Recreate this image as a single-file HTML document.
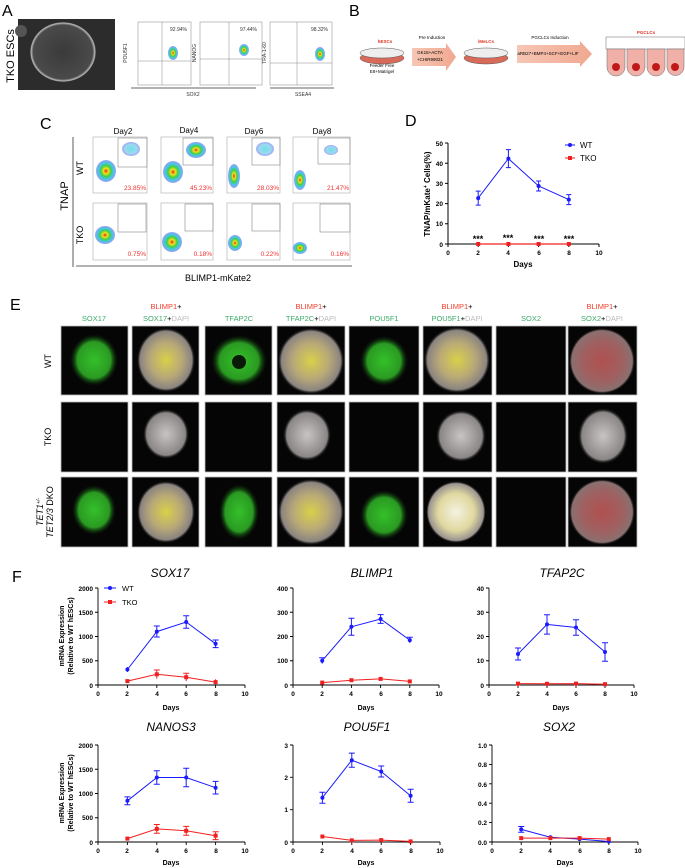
<!DOCTYPE html>
<html><head><meta charset="utf-8"><style>
html,body{margin:0;padding:0;background:#fff}
svg{display:block}
text{font-family:"Liberation Sans",Arial,sans-serif}
</style></head><body>
<svg width="685" height="868" viewBox="0 0 685 868" xmlns="http://www.w3.org/2000/svg">
<defs>
<radialGradient id="heat"><stop offset="0" stop-color="#e8261c"/><stop offset="0.25" stop-color="#f2e21a"/><stop offset="0.5" stop-color="#3fcf4a"/><stop offset="0.75" stop-color="#45c8e8"/><stop offset="1" stop-color="#5a6ee8" stop-opacity="0.6"/></radialGradient>
<radialGradient id="cyan"><stop offset="0" stop-color="#6fe0e8"/><stop offset="0.7" stop-color="#9fd8f0"/><stop offset="1" stop-color="#5a6ee8" stop-opacity="0.5"/></radialGradient>
<radialGradient id="grn"><stop offset="0" stop-color="#35c02a"/><stop offset="0.7" stop-color="#2a9a22"/><stop offset="1" stop-color="#0a2a08" stop-opacity="0"/></radialGradient>
<radialGradient id="mrg"><stop offset="0" stop-color="#d8d04a"/><stop offset="0.55" stop-color="#b8a878"/><stop offset="0.9" stop-color="#8a8480"/><stop offset="1" stop-color="#222" stop-opacity="0"/></radialGradient>
<radialGradient id="gry"><stop offset="0" stop-color="#c8c4c4"/><stop offset="0.85" stop-color="#8a8686"/><stop offset="1" stop-color="#111" stop-opacity="0"/></radialGradient>
<radialGradient id="red"><stop offset="0" stop-color="#b05050"/><stop offset="0.6" stop-color="#a06060"/><stop offset="0.92" stop-color="#8a7070"/><stop offset="1" stop-color="#111" stop-opacity="0"/></radialGradient>
<radialGradient id="wht"><stop offset="0" stop-color="#f4f2e0"/><stop offset="0.6" stop-color="#e0d8a0"/><stop offset="0.92" stop-color="#9a9490"/><stop offset="1" stop-color="#111" stop-opacity="0"/></radialGradient>
<radialGradient id="colony"><stop offset="0" stop-color="#3a3a3a"/><stop offset="0.9" stop-color="#4a4a4a"/><stop offset="0.97" stop-color="#bbb"/><stop offset="1" stop-color="#2a2a2a"/></radialGradient>
<linearGradient id="arr" x1="0" x2="1"><stop offset="0" stop-color="#f7c6b4"/><stop offset="1" stop-color="#f0a890"/></linearGradient>
</defs>

<!-- Panel A -->
<text x="2" y="16" font-size="16">A</text>
<text transform="translate(14,56) rotate(-90)" text-anchor="middle" font-size="11">TKO ESCs</text>
<rect x="18" y="19" width="97" height="71" fill="#2c2c2c"/>
<ellipse cx="63" cy="52" rx="33" ry="30" fill="url(#colony)"/>
<circle cx="21" cy="31" r="6" fill="#555"/>
<g font-size="5" fill="#333">
<rect x="138" y="22" width="53" height="63" fill="#fff" stroke="#999" stroke-width="0.6"/>
<line x1="162" y1="22" x2="162" y2="85" stroke="#888" stroke-width="0.5"/><line x1="138" y1="61" x2="191" y2="61" stroke="#888" stroke-width="0.5"/>
<ellipse cx="173" cy="53" rx="5" ry="7" fill="url(#heat)"/>
<text x="170" y="31">92.94%</text>
<text transform="translate(127,53) rotate(-90)" text-anchor="middle">POU5F1</text>
<rect x="200" y="22" width="62" height="63" fill="#fff" stroke="#999" stroke-width="0.6"/>
<line x1="229" y1="22" x2="229" y2="85" stroke="#888" stroke-width="0.5"/><line x1="200" y1="59" x2="262" y2="59" stroke="#888" stroke-width="0.5"/>
<ellipse cx="244" cy="50" rx="5" ry="6" fill="url(#heat)"/>
<text x="240" y="31">97.44%</text>
<text transform="translate(196,53) rotate(-90)" text-anchor="middle">NANOG</text>
<rect x="270" y="22" width="62" height="63" fill="#fff" stroke="#999" stroke-width="0.6"/>
<line x1="297" y1="22" x2="297" y2="85" stroke="#888" stroke-width="0.5"/><line x1="270" y1="63" x2="332" y2="63" stroke="#888" stroke-width="0.5"/>
<ellipse cx="320" cy="54" rx="5" ry="7" fill="url(#heat)"/>
<text x="311" y="31">98.32%</text>
<text transform="translate(266,53) rotate(-90)" text-anchor="middle">TRA-1-60</text>
<line x1="131" y1="88" x2="256" y2="88" stroke="#333" stroke-width="0.8"/>
<line x1="270" y1="88" x2="334" y2="88" stroke="#333" stroke-width="0.8"/>
<text x="193" y="96" text-anchor="middle">SOX2</text>
<text x="303" y="96" text-anchor="middle">SSEA4</text>
</g>

<!-- Panel B -->
<text x="349" y="16" font-size="16">B</text>
<g font-size="4.5" text-anchor="middle">
<text x="385" y="43" fill="#e03020" font-weight="bold">hESCs</text>
<ellipse cx="382" cy="58" rx="22" ry="6" fill="#d86a5a" stroke="#555" stroke-width="0.5"/>
<ellipse cx="382" cy="53" rx="22" ry="5" fill="#eee" stroke="#555" stroke-width="0.5"/>
<text x="382" y="67">Feeder Free</text><text x="382" y="73">E8+Matrigel</text>
<text x="432" y="39">Pre Induction</text>
<polygon points="412,48 446,48 446,43 456,57 446,71 446,66 412,66" fill="url(#arr)"/>
<text x="430" y="54">GK15+ACTA</text><text x="430" y="61">+CHIR99021</text>
<text x="486" y="43" fill="#e03020" font-weight="bold">iMeLCs</text>
<ellipse cx="486" cy="58" rx="22" ry="6" fill="#d86a5a" stroke="#555" stroke-width="0.5"/>
<ellipse cx="486" cy="53" rx="22" ry="5" fill="#eee" stroke="#555" stroke-width="0.5"/>
<text x="550" y="39">PGCLCs Induction</text>
<polygon points="517,45 580,45 580,41 592,54 580,67 580,63 517,63" fill="url(#arr)"/>
<text x="548" y="55">aRB27+BMP4+SCF+EGF+LIF</text>
<text x="646" y="34" fill="#e03020" font-weight="bold">PGCLCs</text>
</g>
<rect x="606" y="37" width="79" height="12" fill="#fff" stroke="#666" stroke-width="0.5"/>
<g stroke="#666" stroke-width="0.5" fill="#f0b0a8">
<path d="M607,49 h18 v18 a9,9 0 0 1 -18,0 z"/><path d="M627,49 h18 v18 a9,9 0 0 1 -18,0 z"/>
<path d="M647,49 h18 v18 a9,9 0 0 1 -18,0 z"/><path d="M667,49 h17 v18 a8.5,8.5 0 0 1 -17,0 z"/>
</g>
<g fill="#c01818"><circle cx="616" cy="67" r="4"/><circle cx="636" cy="67" r="4"/><circle cx="656" cy="67" r="4"/><circle cx="675" cy="67" r="4"/></g>

<!-- Panel C -->
<text x="40" y="129" font-size="16">C</text>
<g font-size="8" text-anchor="middle">
<text x="123" y="134">Day2</text><text x="189" y="133">Day4</text><text x="254" y="134">Day6</text><text x="322" y="134">Day8</text>
</g>
<text transform="translate(68,196) rotate(-90)" text-anchor="middle" font-size="11">TNAP</text>
<text transform="translate(83,168) rotate(-90)" text-anchor="middle" font-size="9">WT</text>
<text transform="translate(83,235) rotate(-90)" text-anchor="middle" font-size="9">TKO</text>
<line x1="73" y1="137" x2="73" y2="267" stroke="#333" stroke-width="0.8"/>
<line x1="76" y1="266" x2="352" y2="266" stroke="#333" stroke-width="0.8"/>
<text x="218" y="281" text-anchor="middle" font-size="9">BLIMP1-mKate2</text>
<g stroke="#aaa" stroke-width="0.6" fill="#fff">
<rect x="93" y="137" width="54" height="56"/><rect x="161" y="137" width="52" height="56"/><rect x="227" y="137" width="53" height="56"/><rect x="293" y="137" width="57" height="56"/>
<rect x="93" y="203" width="54" height="57"/><rect x="161" y="203" width="52" height="57"/><rect x="227" y="203" width="53" height="57"/><rect x="293" y="203" width="57" height="57"/>
</g>
<g stroke="#888" stroke-width="0.6" fill="none">
<rect x="118" y="138" width="29" height="29"/><rect x="183" y="138" width="30" height="27"/><rect x="252" y="138" width="28" height="27"/><rect x="318" y="138" width="32" height="26"/>
<rect x="118" y="204" width="28" height="28"/><rect x="185" y="204" width="28" height="27"/><rect x="252" y="204" width="28" height="27"/><rect x="320" y="204" width="30" height="28"/>
</g>
<g>
<ellipse cx="106" cy="171" rx="10" ry="11" fill="url(#heat)"/><ellipse cx="131" cy="149" rx="9" ry="7" fill="url(#cyan)"/>
<ellipse cx="173" cy="172" rx="10" ry="11" fill="url(#heat)"/><ellipse cx="196" cy="150" rx="10" ry="8" fill="url(#heat)"/>
<ellipse cx="234" cy="176" rx="6" ry="12" fill="url(#heat)"/><ellipse cx="265" cy="149" rx="9" ry="7" fill="url(#cyan)"/>
<ellipse cx="300" cy="180" rx="6" ry="10" fill="url(#heat)"/><ellipse cx="331" cy="150" rx="7" ry="5" fill="url(#cyan)"/>
<ellipse cx="105" cy="235" rx="10" ry="9" fill="url(#heat)"/>
<ellipse cx="172" cy="242" rx="10" ry="10" fill="url(#heat)"/>
<ellipse cx="235" cy="243" rx="7" ry="8" fill="url(#heat)"/>
<ellipse cx="300" cy="248" rx="7" ry="6" fill="url(#heat)"/>
</g>
<g font-size="6.5" fill="#f03030" text-anchor="end">
<text x="146" y="190">23.85%</text><text x="212" y="190">45.23%</text><text x="279" y="190">28.03%</text><text x="349" y="190">21.47%</text>
<text x="146" y="256">0.75%</text><text x="212" y="256">0.18%</text><text x="279" y="256">0.22%</text><text x="349" y="256">0.16%</text>
</g>

<!-- Panel D -->
<text x="405" y="126" font-size="16">D</text>
<text transform="translate(430,194) rotate(-90)" text-anchor="middle" font-size="8" font-weight="bold">TNAP/mKate<tspan font-size="5" dy="-3">+</tspan><tspan dy="3"> Cells(%)</tspan></text>
<g stroke="#000" stroke-width="1" fill="none">
<path d="M448,143 V244 H599"/>
<path d="M445,143 H448 M445,163.2 H448 M445,183.4 H448 M445,203.6 H448 M445,223.8 H448 M445,244 H448"/>
<path d="M448,244 V247 M478.2,244 V247 M508.4,244 V247 M538.6,244 V247 M568.8,244 V247 M599,244 V247"/>
</g>
<g font-size="6.5" font-weight="bold" text-anchor="end">
<text x="443" y="146">50</text><text x="443" y="166">40</text><text x="443" y="186">30</text><text x="443" y="206">20</text><text x="443" y="226">10</text><text x="443" y="247">0</text>
</g>
<g font-size="6.5" font-weight="bold" text-anchor="middle">
<text x="448" y="255">0</text><text x="478" y="255">2</text><text x="508" y="255">4</text><text x="539" y="255">6</text><text x="569" y="255">8</text><text x="599" y="255">10</text>
</g>
<text x="523" y="267" text-anchor="middle" font-size="8" font-weight="bold">Days</text>
<g stroke="#1a1aff" stroke-width="1" fill="none">
<polyline points="478.2,198.1 508.4,158.6 538.6,186 568.8,199.6"/>
<path d="M478.2,191.1 V205.1 M475.7,191.1 H480.7 M475.7,205.1 H480.7 M508.4,149.6 V167.6 M505.9,149.6 H510.9 M505.9,167.6 H510.9 M538.6,181 V191 M536.1,181 H541.1 M536.1,191 H541.1 M568.8,194.6 V204.6 M566.3,194.6 H571.3 M566.3,204.6 H571.3"/>
</g>
<g fill="#1a1aff"><circle cx="478.2" cy="198.1" r="2"/><circle cx="508.4" cy="158.6" r="2"/><circle cx="538.6" cy="186" r="2"/><circle cx="568.8" cy="199.6" r="2"/></g>
<line x1="478.2" y1="244" x2="568.8" y2="244" stroke="#f02020" stroke-width="1.2"/>
<g fill="#f02020"><rect x="476.2" y="242" width="4" height="4"/><rect x="506.4" y="242" width="4" height="4"/><rect x="536.6" y="242" width="4" height="4"/><rect x="566.8" y="242" width="4" height="4"/></g>
<g font-size="9" font-weight="bold" text-anchor="middle"><text x="478" y="242">***</text><text x="508" y="241">***</text><text x="539" y="242">***</text><text x="569" y="242">***</text></g>
<line x1="565" y1="145" x2="575" y2="145" stroke="#1a1aff"/><circle cx="570" cy="145" r="2" fill="#1a1aff"/>
<text x="580" y="148" font-size="8">WT</text>
<line x1="565" y1="158" x2="575" y2="158" stroke="#f02020"/><rect x="568" y="156" width="4" height="4" fill="#f02020"/>
<text x="580" y="161" font-size="8">TKO</text>

<!-- Panel E -->
<text x="10" y="310" font-size="16">E</text>
<g font-size="7.5" text-anchor="middle">
<text x="166" y="309" fill="#f03c2a">BLIMP1<tspan fill="#000">+</tspan></text>
<text x="311" y="309" fill="#f03c2a">BLIMP1<tspan fill="#000">+</tspan></text>
<text x="457" y="309" fill="#f03c2a">BLIMP1<tspan fill="#000">+</tspan></text>
<text x="602" y="309" fill="#f03c2a">BLIMP1<tspan fill="#000">+</tspan></text>
<text x="94" y="321" fill="#3daa6a">SOX17</text>
<text x="166" y="321" fill="#3daa6a">SOX17<tspan fill="#000">+</tspan><tspan fill="#bbb">DAPI</tspan></text>
<text x="239" y="321" fill="#3daa6a">TFAP2C</text>
<text x="311" y="321" fill="#3daa6a">TFAP2C<tspan fill="#000">+</tspan><tspan fill="#bbb">DAPI</tspan></text>
<text x="384" y="321" fill="#3daa6a">POU5F1</text>
<text x="457" y="321" fill="#3daa6a">POU5F1<tspan fill="#000">+</tspan><tspan fill="#bbb">DAPI</tspan></text>
<text x="531" y="321" fill="#3daa6a">SOX2</text>
<text x="602" y="321" fill="#3daa6a">SOX2<tspan fill="#000">+</tspan><tspan fill="#bbb">DAPI</tspan></text>
</g>
<g font-size="9" text-anchor="middle">
<text transform="translate(51,361) rotate(-90)">WT</text>
<text transform="translate(51,437) rotate(-90)">TKO</text>
<text transform="translate(43,512) rotate(-90)" font-style="italic">TET1<tspan font-size="5" dy="-3">+/-</tspan></text>
<text transform="translate(53,512) rotate(-90)"><tspan font-style="italic">TET2/3</tspan> DKO</text>
</g>
<g fill="#050505" stroke="#bbb" stroke-width="0.8">
<rect x="61" y="326" width="67" height="69"/><rect x="132" y="326" width="67" height="69"/><rect x="205" y="326" width="67" height="69"/><rect x="277" y="326" width="68" height="69"/><rect x="349" y="326" width="70" height="69"/><rect x="423" y="326" width="69" height="69"/><rect x="496" y="326" width="70" height="69"/><rect x="568" y="326" width="69" height="69"/>
<rect x="61" y="402" width="67" height="70"/><rect x="132" y="402" width="67" height="70"/><rect x="205" y="402" width="67" height="70"/><rect x="277" y="402" width="68" height="70"/><rect x="349" y="402" width="70" height="70"/><rect x="423" y="402" width="69" height="70"/><rect x="496" y="402" width="70" height="70"/><rect x="568" y="402" width="69" height="70"/>
<rect x="61" y="477" width="67" height="70"/><rect x="132" y="477" width="67" height="70"/><rect x="205" y="477" width="67" height="70"/><rect x="277" y="477" width="68" height="70"/><rect x="349" y="477" width="70" height="70"/><rect x="423" y="477" width="69" height="70"/><rect x="496" y="477" width="70" height="70"/><rect x="568" y="477" width="69" height="70"/>
</g>
<g>
<ellipse cx="94" cy="360" rx="24" ry="26" fill="url(#grn)"/>
<ellipse cx="166" cy="360" rx="29" ry="32" fill="url(#mrg)"/>
<ellipse cx="239" cy="361" rx="28" ry="26" fill="url(#grn)"/><circle cx="239" cy="362" r="7" fill="#0a1a08"/>
<ellipse cx="311" cy="361" rx="33" ry="33" fill="url(#mrg)"/>
<ellipse cx="384" cy="361" rx="24" ry="25" fill="url(#grn)"/>
<ellipse cx="457" cy="360" rx="33" ry="33" fill="url(#mrg)"/>
<ellipse cx="602" cy="361" rx="33" ry="33" fill="url(#red)"/>
<ellipse cx="166" cy="434" rx="23" ry="25" fill="url(#gry)"/>
<ellipse cx="307" cy="435" rx="24" ry="26" fill="url(#gry)"/>
<ellipse cx="461" cy="436" rx="25" ry="26" fill="url(#gry)"/>
<ellipse cx="603" cy="436" rx="25" ry="28" fill="url(#gry)"/>
<ellipse cx="94" cy="510" rx="22" ry="25" fill="url(#grn)"/>
<ellipse cx="166" cy="512" rx="29" ry="31" fill="url(#mrg)"/>
<ellipse cx="239" cy="512" rx="20" ry="28" fill="url(#grn)"/>
<ellipse cx="311" cy="512" rx="33" ry="33" fill="url(#mrg)"/>
<ellipse cx="384" cy="515" rx="24" ry="25" fill="url(#grn)"/>
<ellipse cx="456" cy="512" rx="30" ry="31" fill="url(#wht)"/>
<ellipse cx="602" cy="512" rx="33" ry="33" fill="url(#red)"/>
</g>

<!-- Panel F -->
<text x="12" y="582" font-size="16">F</text>
<g font-size="12" font-style="italic" text-anchor="middle">
<text x="170" y="577">SOX17</text><text x="372" y="577">BLIMP1</text><text x="562" y="577">TFAP2C</text>
<text x="171" y="731">NANOS3</text><text x="367" y="731">POU5F1</text><text x="559" y="731">SOX2</text>
</g>
<g font-size="7" font-weight="bold" text-anchor="middle">
<text transform="translate(64,636) rotate(-90)">mRNA Expression</text>
<text transform="translate(73,636) rotate(-90)">(Relative to WT hESCs)</text>
<text transform="translate(64,793) rotate(-90)">mRNA Expression</text>
<text transform="translate(73,793) rotate(-90)">(Relative to WT hESCs)</text>
</g>
<line x1="104" y1="588" x2="116" y2="588" stroke="#1a1aff"/><circle cx="110" cy="588" r="2" fill="#1a1aff"/>
<text x="122" y="591" font-size="7.5">WT</text>
<line x1="104" y1="602" x2="116" y2="602" stroke="#f02020"/><rect x="108" y="600" width="4" height="4" fill="#f02020"/>
<text x="122" y="605" font-size="7.5">TKO</text>

<!-- Generic axes for F charts -->
<g stroke="#000" stroke-width="0.9" fill="none">
<!-- chart1 -->
<path d="M98,588 V685 H245 M95,588 H98 M95,612.25 H98 M95,636.5 H98 M95,660.75 H98 M95,685 H98 M98,685 v3 M127.4,685 v3 M156.8,685 v3 M186.2,685 v3 M215.6,685 v3 M245,685 v3"/>
<!-- chart2 -->
<path d="M293,588 V685 H439 M290,588 H293 M290,612.25 H293 M290,636.5 H293 M290,660.75 H293 M290,685 H293 M293,685 v3 M322.2,685 v3 M351.4,685 v3 M380.6,685 v3 M409.8,685 v3 M439,685 v3"/>
<!-- chart3 -->
<path d="M489,588 V685 H634 M486,588 H489 M486,612.25 H489 M486,636.5 H489 M486,660.75 H489 M486,685 H489 M489,685 v3 M518,685 v3 M547,685 v3 M576,685 v3 M605,685 v3 M634,685 v3"/>
<!-- chart4 -->
<path d="M98,745 V842 H245 M95,745 H98 M95,769.25 H98 M95,793.5 H98 M95,817.75 H98 M95,842 H98 M98,842 v3 M127.4,842 v3 M156.8,842 v3 M186.2,842 v3 M215.6,842 v3 M245,842 v3"/>
<!-- chart5 -->
<path d="M293,745 V842 H440 M290,745 H293 M290,777.3 H293 M290,809.7 H293 M290,842 H293 M293,842 v3 M322.4,842 v3 M351.8,842 v3 M381.2,842 v3 M410.6,842 v3 M440,842 v3"/>
<!-- chart6 -->
<path d="M492,745 V842 H638 M489,745 H492 M489,764.4 H492 M489,783.8 H492 M489,803.2 H492 M489,822.6 H492 M489,842 H492 M492,842 v3 M521.2,842 v3 M550.4,842 v3 M579.6,842 v3 M608.8,842 v3 M638,842 v3"/>
</g>
<g font-size="6.5" font-weight="bold" text-anchor="end">
<text x="93" y="591">2000</text><text x="93" y="615">1500</text><text x="93" y="639">1000</text><text x="93" y="663">500</text><text x="93" y="688">0</text>
<text x="288" y="591">400</text><text x="288" y="615">300</text><text x="288" y="639">200</text><text x="288" y="663">100</text><text x="288" y="688">0</text>
<text x="484" y="591">40</text><text x="484" y="615">30</text><text x="484" y="639">20</text><text x="484" y="663">10</text><text x="484" y="688">0</text>
<text x="93" y="748">2000</text><text x="93" y="772">1500</text><text x="93" y="796">1000</text><text x="93" y="820">500</text><text x="93" y="845">0</text>
<text x="288" y="748">3</text><text x="288" y="780">2</text><text x="288" y="812">1</text><text x="288" y="845">0</text>
<text x="487" y="748">1.0</text><text x="487" y="767">0.8</text><text x="487" y="787">0.6</text><text x="487" y="806">0.4</text><text x="487" y="825">0.2</text><text x="487" y="845">0.0</text>
</g>
<g font-size="6.5" font-weight="bold" text-anchor="middle">
<text x="98" y="696">0</text><text x="127" y="696">2</text><text x="157" y="696">4</text><text x="186" y="696">6</text><text x="216" y="696">8</text><text x="245" y="696">10</text>
<text x="293" y="696">0</text><text x="322" y="696">2</text><text x="351" y="696">4</text><text x="381" y="696">6</text><text x="410" y="696">8</text><text x="439" y="696">10</text>
<text x="489" y="696">0</text><text x="518" y="696">2</text><text x="547" y="696">4</text><text x="576" y="696">6</text><text x="605" y="696">8</text><text x="634" y="696">10</text>
<text x="98" y="853">0</text><text x="127" y="853">2</text><text x="157" y="853">4</text><text x="186" y="853">6</text><text x="216" y="853">8</text><text x="245" y="853">10</text>
<text x="293" y="853">0</text><text x="322" y="853">2</text><text x="352" y="853">4</text><text x="381" y="853">6</text><text x="411" y="853">8</text><text x="440" y="853">10</text>
<text x="492" y="853">0</text><text x="521" y="853">2</text><text x="550" y="853">4</text><text x="580" y="853">6</text><text x="609" y="853">8</text><text x="638" y="853">10</text>
</g>
<g font-size="7" font-weight="bold" text-anchor="middle">
<text x="171" y="710">Days</text><text x="366" y="710">Days</text><text x="561" y="710">Days</text>
<text x="171" y="865">Days</text><text x="366" y="865">Days</text><text x="565" y="865">Days</text>
</g>

<!-- F data: WT blue -->
<g stroke="#1a1aff" stroke-width="1" fill="none">
<polyline points="127.4,669.5 156.8,631.6 186.2,622 215.6,643.8"/>
<path d="M127.4,667 v5 M156.8,626 v11 M153.8,626 h6 M153.8,637 h6 M186.2,615.7 v12.6 M183.2,615.7 h6 M183.2,628.3 h6 M215.6,640 v7.6 M212.6,640 h6 M212.6,647.6 h6"/>
<polyline points="322.2,660.7 351.4,626.8 380.6,619 409.8,640.1"/>
<path d="M322.2,657.8 v5.8 M319.2,657.8 h6 M351.4,618.3 v17 M348.4,618.3 h6 M348.4,635.3 h6 M380.6,614.6 v8.8 M377.6,614.6 h6 M377.6,623.4 h6 M409.8,637.2 v5.8 M406.8,637.2 h6"/>
<polyline points="518,654 547,624.4 576,627.5 605,652"/>
<path d="M518,648 v12 M515,648 h6 M515,660 h6 M547,614.7 v19.4 M544,614.7 h6 M544,634.1 h6 M576,619.7 v15.6 M573,619.7 h6 M573,635.3 h6 M605,642.8 v18.4 M602,642.8 h6 M602,661.2 h6"/>
<polyline points="127.4,800.8 156.8,777.5 186.2,777.5 215.6,787.7"/>
<path d="M127.4,796.9 v7.8 M124.4,796.9 h6 M124.4,804.7 h6 M156.8,770.7 v13.6 M153.8,770.7 h6 M153.8,784.3 h6 M186.2,768.3 v18.4 M183.2,768.3 h6 M183.2,786.7 h6 M215.6,781.4 v12.6 M212.6,781.4 h6 M212.6,794 h6"/>
<polyline points="322.4,797.7 351.8,760.2 381.2,771.5 410.6,795.8"/>
<path d="M322.4,792.2 v11 M319.4,792.2 h6 M319.4,803.2 h6 M351.8,753.1 v14.2 M348.8,753.1 h6 M348.8,767.3 h6 M381.2,766 v11 M378.2,766 h6 M378.2,777 h6 M410.6,789.3 v13 M407.6,789.3 h6 M407.6,802.3 h6"/>
<polyline points="521.2,829.4 550.4,837.2 579.6,839.1 608.8,841.5"/>
<path d="M521.2,826.5 v5.8 M518.2,826.5 h6 M518.2,832.3 h6"/>
</g>
<g fill="#1a1aff">
<circle cx="127.4" cy="669.5" r="2"/><circle cx="156.8" cy="631.6" r="2"/><circle cx="186.2" cy="622" r="2"/><circle cx="215.6" cy="643.8" r="2"/>
<circle cx="322.2" cy="660.7" r="2"/><circle cx="351.4" cy="626.8" r="2"/><circle cx="380.6" cy="619" r="2"/><circle cx="409.8" cy="640.1" r="2"/>
<circle cx="518" cy="654" r="2"/><circle cx="547" cy="624.4" r="2"/><circle cx="576" cy="627.5" r="2"/><circle cx="605" cy="652" r="2"/>
<circle cx="127.4" cy="800.8" r="2"/><circle cx="156.8" cy="777.5" r="2"/><circle cx="186.2" cy="777.5" r="2"/><circle cx="215.6" cy="787.7" r="2"/>
<circle cx="322.4" cy="797.7" r="2"/><circle cx="351.8" cy="760.2" r="2"/><circle cx="381.2" cy="771.5" r="2"/><circle cx="410.6" cy="795.8" r="2"/>
<circle cx="521.2" cy="829.4" r="2"/><circle cx="550.4" cy="837.2" r="2"/><circle cx="579.6" cy="839.1" r="2"/><circle cx="608.8" cy="841.5" r="2"/>
</g>
<!-- TKO red -->
<g stroke="#f02020" stroke-width="1" fill="none">
<polyline points="127.4,681.1 156.8,674.3 186.2,677.2 215.6,682.1"/>
<path d="M156.8,670 v8.6 M153.8,670 h6 M186.2,673.3 v7.8 M183.2,673.3 h6 M215.6,679.2 v5"/>
<polyline points="322.2,682.6 351.4,680.2 380.6,678.9 409.8,681.4"/>
<polyline points="518,683.6 547,683.8 576,683.6 605,684.2"/>
<polyline points="127.4,838.6 156.8,828.9 186.2,830.8 215.6,835.7"/>
<path d="M156.8,824.5 v8.8 M153.8,824.5 h6 M153.8,833.3 h6 M186.2,826.4 v8.8 M183.2,826.4 h6 M183.2,835.2 h6 M215.6,831.8 v7.8 M212.6,831.8 h6 M212.6,839.6 h6"/>
<polyline points="322.4,836.5 351.8,840.4 381.2,840.1 410.6,841.4"/>
<polyline points="521.2,838.1 550.4,838.1 579.6,838.1 608.8,839.1"/>
</g>
<g fill="#f02020">
<rect x="125.4" y="679.1" width="4" height="4"/><rect x="154.8" y="672.3" width="4" height="4"/><rect x="184.2" y="675.2" width="4" height="4"/><rect x="213.6" y="680.1" width="4" height="4"/>
<rect x="320.2" y="680.6" width="4" height="4"/><rect x="349.4" y="678.2" width="4" height="4"/><rect x="378.6" y="676.9" width="4" height="4"/><rect x="407.8" y="679.4" width="4" height="4"/>
<rect x="516" y="681.6" width="4" height="4"/><rect x="545" y="681.8" width="4" height="4"/><rect x="574" y="681.6" width="4" height="4"/><rect x="603" y="682.2" width="4" height="4"/>
<rect x="125.4" y="836.6" width="4" height="4"/><rect x="154.8" y="826.9" width="4" height="4"/><rect x="184.2" y="828.8" width="4" height="4"/><rect x="213.6" y="833.7" width="4" height="4"/>
<rect x="320.4" y="834.5" width="4" height="4"/><rect x="349.8" y="838.4" width="4" height="4"/><rect x="379.2" y="838.1" width="4" height="4"/><rect x="408.6" y="839.4" width="4" height="4"/>
<rect x="519.2" y="836.1" width="4" height="4"/><rect x="548.4" y="836.1" width="4" height="4"/><rect x="577.6" y="836.1" width="4" height="4"/><rect x="606.8" y="837.1" width="4" height="4"/>
</g>
</svg>
</body></html>
